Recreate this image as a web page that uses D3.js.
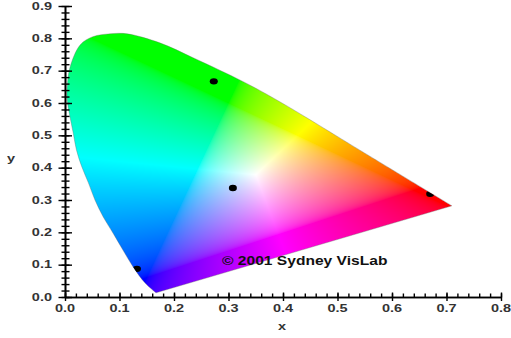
<!DOCTYPE html>
<html>
<head>
<meta charset="UTF-8">
<title>CIE chromaticity diagram</title>
<script src="https://cdn.jsdelivr.net/npm/d3@7"></script>
<style>
body{margin:0;background:#fff;}
svg{display:block;}
</style>
</head>
<body>
<script>
// spectral locus, from the violet end round to the red end
var locusX=[0.167,0.147,0.125,0.106,0.088,0.070,0.055,0.043,0.031,0.021,0.015,0.009,0.004,0.004,0.009,0.028,0.051,0.083,0.114,0.174,0.235,0.327,0.394,0.547,0.710];
var locusY=[0.013,0.043,0.093,0.146,0.198,0.248,0.300,0.353,0.402,0.455,0.508,0.558,0.610,0.647,0.709,0.780,0.805,0.814,0.814,0.786,0.740,0.666,0.604,0.448,0.282];
// marked points (blue, white, green, red)
var pointX=[0.132,0.308,0.273,0.670];
var pointY=[0.087,0.337,0.667,0.319];
var xTicks=[0.0,0.1,0.2,0.3,0.4,0.5,0.6,0.7,0.8];
var yTicks=[0.0,0.1,0.2,0.3,0.4,0.5,0.6,0.7,0.8,0.9];
var whiteX=0.35, whiteY=0.378;

var width=511, height=338;
var x=d3.scaleLinear().domain([0,0.8]).range([65,501]);
var y=d3.scaleLinear().domain([0,0.9]).range([297,6]);

var svg=d3.select("body").append("svg")
	.attr("width",width)
	.attr("height",height);

// xy -> linear rgb
function xyLin(cx,cy){
	var X=cx/cy, Z=(1-cx-cy)/cy;
	return [3.2406*X-1.5372-0.4986*Z,
		-0.9689*X+1.8758+0.0415*Z,
		0.0557*X-0.2040+1.0570*Z];
}
function gam(v){ return v<=0.0031308 ? 12.92*v : 1.055*Math.pow(v,1/2.4)-0.055; }

var wb=xyLin(whiteX,whiteY);
var canvas=document.createElement("canvas");
canvas.width=width; canvas.height=height;
var ctx=canvas.getContext("2d");
var img=ctx.createImageData(width,height);
for(var py=0;py<height;py++){
	for(var px=0;px<width;px++){
		var cx=x.invert(px+0.5), cy=y.invert(py+0.5);
		if(cy<0.002) continue;
		var c=xyLin(cx,cy);
		var r=Math.max(0,c[0]/wb[0]), g=Math.max(0,c[1]/wb[1]), b=Math.max(0,c[2]/wb[2]);
		var m=Math.max(r,g,b);
		if(m<=0) continue;
		var k=(py*width+px)*4;
		img.data[k]=Math.round(255*gam(r/m));
		img.data[k+1]=Math.round(255*gam(g/m));
		img.data[k+2]=Math.round(255*gam(b/m));
		img.data[k+3]=255;
	}
}
ctx.putImageData(img,0,0);

var idx=d3.range(locusX.length);
var locusPath=d3.line()
	.x(function(i){return x(locusX[i]);})
	.y(function(i){return y(locusY[i]);})
	.curve(d3.curveCatmullRom.alpha(0.5))(idx)+"Z";

svg.append("clipPath").attr("id","gamut")
	.append("path").attr("d",locusPath);

svg.append("image")
	.attr("x",0).attr("y",0)
	.attr("width",width).attr("height",height)
	.attr("href",canvas.toDataURL())
	.attr("clip-path","url(#gamut)");

svg.append("path")
	.attr("d",locusPath)
	.attr("fill","none")
	.attr("stroke","#666")
	.attr("stroke-opacity",0.5)
	.attr("stroke-width",0.7);

// points
svg.append("g").attr("clip-path","url(#gamut)")
	.selectAll("ellipse").data(idx.slice(0,pointX.length))
	.enter().append("ellipse")
	.attr("cx",function(i){return x(pointX[i]);})
	.attr("cy",function(i){return y(pointY[i]);})
	.attr("rx",4).attr("ry",3.2)
	.attr("fill","#000");

// axes
var xMinor=d3.range(0,41).map(function(i){return i/50;});
var yMinor=d3.range(0,46).map(function(i){return i/50;});

var gx=svg.append("g").attr("transform","translate(0,"+y(0)+")");
gx.call(d3.axisBottom(x).tickValues(xMinor).tickFormat("").tickSizeOuter(0));
gx.selectAll(".tick line").attr("y1",-3.5).attr("y2",0.5);
var gx2=svg.append("g").attr("transform","translate(0,"+y(0)+")");
gx2.call(d3.axisBottom(x).tickValues(xTicks).tickFormat("").tickSizeOuter(0));
gx2.selectAll(".tick line").attr("y1",-4.5).attr("y2",4);

var gy=svg.append("g").attr("transform","translate("+x(0)+",0)");
gy.call(d3.axisLeft(y).tickValues(yMinor).tickFormat("").tickSizeOuter(0));
gy.selectAll(".tick line").attr("x1",-3.5).attr("x2",4.5);
var gy2=svg.append("g").attr("transform","translate("+x(0)+",0)");
gy2.call(d3.axisLeft(y).tickValues(yTicks).tickFormat("").tickSizeOuter(0));
gy2.selectAll(".tick line").attr("x1",-6.5).attr("x2",7);

svg.selectAll(".domain").attr("stroke","#000").attr("stroke-width",1.6);
svg.selectAll(".tick line").attr("stroke","#000").attr("stroke-width",1.4);

var sx=1.45;
svg.append("g").selectAll("text").data(xTicks).enter().append("text")
	.attr("transform",function(d){return "translate("+x(d)+",312) scale("+sx+",1)";})
	.attr("text-anchor","middle")
	.attr("font-family","Liberation Sans, Arial, sans-serif")
	.attr("font-weight","bold").attr("font-size",10)
	.attr("fill","#333")
	.text(function(d){return d.toFixed(1);});

svg.append("g").selectAll("text").data(yTicks).enter().append("text")
	.attr("transform",function(d){return "translate(52,"+(y(d)+3.6)+") scale("+sx+",1)";})
	.attr("text-anchor","end")
	.attr("font-family","Liberation Sans, Arial, sans-serif")
	.attr("font-weight","bold").attr("font-size",10)
	.attr("fill","#333")
	.text(function(d){return d.toFixed(1);});

svg.append("text")
	.attr("transform","translate(282,330) scale("+sx+",1)")
	.attr("text-anchor","middle")
	.attr("font-family","Liberation Sans, Arial, sans-serif")
	.attr("font-weight","bold").attr("font-size",10)
	.attr("fill","#333").text("x");
svg.append("text")
	.attr("transform","translate(11,162) scale("+sx+",1)")
	.attr("text-anchor","middle")
	.attr("font-family","Liberation Sans, Arial, sans-serif")
	.attr("font-weight","bold").attr("font-size",10)
	.attr("fill","#333").text("y");

svg.append("text")
	.attr("transform","translate(222,265) scale(1.3,1)")
	.attr("font-family","Liberation Sans, Arial, sans-serif")
	.attr("font-weight","bold").attr("font-size",12)
	.attr("fill","#111")
	.text("\u00a9 2001 Sydney VisLab");
</script>
</body>
</html>
